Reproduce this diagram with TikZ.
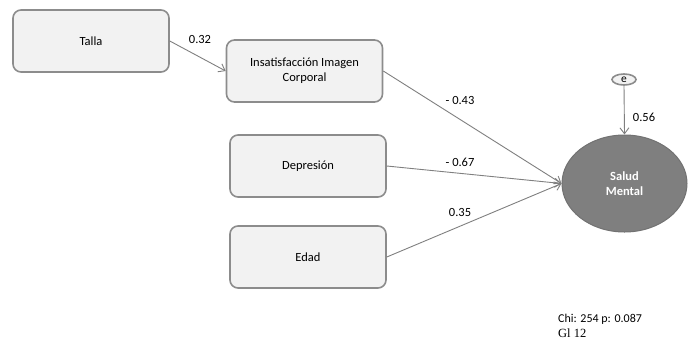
\documentclass[tikz,border=0pt]{standalone}
\usepackage{fontspec}
\setmainfont{Carlito}
\newfontfamily\timesfont{Liberation Serif}
\usetikzlibrary{arrows.meta,shapes.geometric}
\definecolor{boxfill}{HTML}{F2F2F2}
\definecolor{boxline}{HTML}{8C8C8C}
\definecolor{latfill}{HTML}{7F7F7F}
\definecolor{arrowgray}{HTML}{7F7F7F}

\begin{document}
\begin{tikzpicture}[x=1pt,y=-1pt,>={Straight Barb[length=6pt,width=9pt]},font=\fontsize{12.5}{15}\selectfont]
  \tikzstyle{obs}=[rectangle,rounded corners=8pt,draw=boxline,line width=1.6pt,
                   fill=boxfill,minimum width=156pt,minimum height=62pt,
                   align=center]
  \tikzstyle{latent}=[ellipse,draw=latfill!90!black,line width=1pt,fill=latfill,
                      minimum width=125pt,minimum height=97pt,
                      text=white,font=\fontsize{12.5}{15}\selectfont\bfseries,align=center]
  \tikzstyle{err}=[ellipse,draw=boxline,line width=1.6pt,fill=boxfill,
                   minimum width=24pt,minimum height=11pt,inner sep=0pt,
                   font=\fontsize{11.5}{11}\selectfont]
  \tikzstyle{path}=[->,draw=arrowgray,line width=0.9pt]
  \tikzstyle{coef}=[inner sep=1pt]

  \useasboundingbox (0,0) rectangle (690,341);

  \node [obs] (talla) at (91,41) {Talla};
  \node [obs] (insat) at (304.5,71) {Insatisfacción Imagen\\Corporal};
  \node [obs] (depre) at (308,166) {Depresión};
  \node [obs] (edad)  at (308,257) {Edad};
  \node [latent] (salud) at (624.5,183.5) {Salud\\Mental};
  \node [err] (e) at (624,79.5) {e};

  \draw [path] (talla.east) -- (insat.west);
  \draw [path] (insat.east) -- (salud.west);
  \draw [path] (depre.east) -- (salud.west);
  \draw [path] (edad.east)  -- (salud.west);
  \draw [path] (e.south) -- (salud.north);

  \node [coef] (c1) at (200,39)  {0.32};
  \node [coef] (c2) at (460,100) {- 0.43};
  \node [coef] (c3) at (460,162) {- 0.67};
  \node [coef] (c4) at (460,212) {0.35};
  \node [coef] (c5) at (644,117) {0.56};

  \node [anchor=west,inner sep=0pt,font=\fontsize{12}{14}\selectfont] (chi) at (558,319) {Chi: 254 p: 0.087};
  \node [anchor=west,inner sep=0pt,font=\fontsize{12.5}{14}\timesfont] (gl) at (558,333) {Gl 12};
\end{tikzpicture}
\end{document}
